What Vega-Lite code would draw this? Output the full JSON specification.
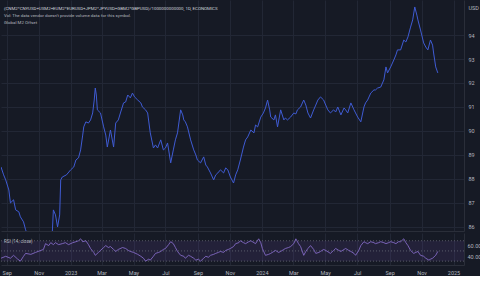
{
  "$schema": "https://vega.github.io/schema/vega-lite/v6.json",
  "padding": 0,
  "spacing": 2,
  "background": "#161a25",
  "config": {
    "view": {"stroke": null},
    "axis": {
      "labelColor": "#b2b5be",
      "labelFont": "Roboto",
      "labelFontSize": 5.5,
      "titleColor": "#b2b5be",
      "titleFont": "Roboto",
      "titleFontWeight": "normal",
      "titleFontSize": 5.5,
      "gridColor": "#222735",
      "gridWidth": 1,
      "domainColor": "#2a2e39",
      "tickColor": "#2a2e39"
    }
  },
  "datasets": {
    "m2": [
      {"date": "2022-08-21", "value": 88.50}, {"date": "2022-08-26", "value": 88.17}, {"date": "2022-08-30", "value": 87.96},
      {"date": "2022-09-05", "value": 87.54}, {"date": "2022-09-08", "value": 87.00}, {"date": "2022-09-14", "value": 87.13},
      {"date": "2022-09-18", "value": 86.71}, {"date": "2022-09-24", "value": 86.63}, {"date": "2022-09-27", "value": 86.42},
      {"date": "2022-10-03", "value": 86.21}, {"date": "2022-10-07", "value": 85.88}, {"date": "2022-10-13", "value": 85.54},
      {"date": "2022-10-21", "value": 85.38}, {"date": "2022-10-28", "value": 85.46}, {"date": "2022-11-05", "value": 85.25},
      {"date": "2022-11-12", "value": 85.54}, {"date": "2022-11-20", "value": 85.63}, {"date": "2022-11-27", "value": 85.79},
      {"date": "2022-11-29", "value": 86.71}, {"date": "2022-12-03", "value": 86.50}, {"date": "2022-12-07", "value": 86.00},
      {"date": "2022-12-11", "value": 86.50}, {"date": "2022-12-13", "value": 87.96}, {"date": "2022-12-16", "value": 88.08},
      {"date": "2022-12-24", "value": 88.17}, {"date": "2023-01-01", "value": 88.38}, {"date": "2023-01-07", "value": 88.50},
      {"date": "2023-01-11", "value": 88.79}, {"date": "2023-01-16", "value": 88.88}, {"date": "2023-01-20", "value": 89.21},
      {"date": "2023-01-24", "value": 89.83}, {"date": "2023-01-26", "value": 90.17}, {"date": "2023-01-30", "value": 90.38},
      {"date": "2023-02-04", "value": 90.33}, {"date": "2023-02-08", "value": 90.46}, {"date": "2023-02-12", "value": 90.75},
      {"date": "2023-02-15", "value": 91.29}, {"date": "2023-02-17", "value": 91.79}, {"date": "2023-02-19", "value": 91.50},
      {"date": "2023-02-21", "value": 90.88}, {"date": "2023-02-27", "value": 90.75}, {"date": "2023-03-05", "value": 90.17},
      {"date": "2023-03-09", "value": 89.83}, {"date": "2023-03-12", "value": 89.33}, {"date": "2023-03-18", "value": 90.04},
      {"date": "2023-03-24", "value": 89.33}, {"date": "2023-03-28", "value": 90.33}, {"date": "2023-04-02", "value": 90.46},
      {"date": "2023-04-06", "value": 90.75}, {"date": "2023-04-12", "value": 91.17}, {"date": "2023-04-16", "value": 91.21},
      {"date": "2023-04-20", "value": 91.50}, {"date": "2023-04-25", "value": 91.38}, {"date": "2023-04-29", "value": 91.58},
      {"date": "2023-05-03", "value": 91.42}, {"date": "2023-05-09", "value": 91.29}, {"date": "2023-05-15", "value": 91.17},
      {"date": "2023-05-18", "value": 91.00}, {"date": "2023-05-24", "value": 90.88}, {"date": "2023-05-28", "value": 90.75},
      {"date": "2023-06-02", "value": 89.92}, {"date": "2023-06-08", "value": 89.29}, {"date": "2023-06-12", "value": 89.42},
      {"date": "2023-06-16", "value": 89.29}, {"date": "2023-06-22", "value": 89.63}, {"date": "2023-06-27", "value": 89.21},
      {"date": "2023-07-01", "value": 89.29}, {"date": "2023-07-05", "value": 89.50}, {"date": "2023-07-11", "value": 88.67},
      {"date": "2023-07-16", "value": 89.21}, {"date": "2023-07-20", "value": 89.63}, {"date": "2023-07-24", "value": 89.92},
      {"date": "2023-07-30", "value": 90.88}, {"date": "2023-08-03", "value": 90.67}, {"date": "2023-08-05", "value": 90.46},
      {"date": "2023-08-08", "value": 90.38}, {"date": "2023-08-12", "value": 90.17}, {"date": "2023-08-18", "value": 89.63},
      {"date": "2023-08-24", "value": 89.21}, {"date": "2023-08-28", "value": 89.00}, {"date": "2023-08-31", "value": 88.79},
      {"date": "2023-09-06", "value": 88.67}, {"date": "2023-09-12", "value": 88.92}, {"date": "2023-09-16", "value": 88.58},
      {"date": "2023-09-19", "value": 88.50}, {"date": "2023-09-25", "value": 88.25}, {"date": "2023-10-01", "value": 87.96},
      {"date": "2023-10-05", "value": 88.17}, {"date": "2023-10-09", "value": 88.25}, {"date": "2023-10-14", "value": 88.38},
      {"date": "2023-10-20", "value": 88.25}, {"date": "2023-10-24", "value": 88.46}, {"date": "2023-10-28", "value": 88.38},
      {"date": "2023-11-02", "value": 88.08}, {"date": "2023-11-08", "value": 87.83}, {"date": "2023-11-12", "value": 88.17},
      {"date": "2023-11-16", "value": 88.38}, {"date": "2023-11-21", "value": 88.79}, {"date": "2023-11-27", "value": 89.33},
      {"date": "2023-12-01", "value": 89.63}, {"date": "2023-12-05", "value": 89.75}, {"date": "2023-12-11", "value": 90.04},
      {"date": "2023-12-17", "value": 89.92}, {"date": "2023-12-20", "value": 90.25}, {"date": "2023-12-24", "value": 90.17},
      {"date": "2023-12-30", "value": 90.58}, {"date": "2024-01-04", "value": 90.75}, {"date": "2024-01-08", "value": 90.96},
      {"date": "2024-01-12", "value": 91.29}, {"date": "2024-01-16", "value": 90.88}, {"date": "2024-01-18", "value": 90.58},
      {"date": "2024-01-24", "value": 90.46}, {"date": "2024-01-27", "value": 90.67}, {"date": "2024-01-31", "value": 90.17},
      {"date": "2024-02-06", "value": 90.88}, {"date": "2024-02-12", "value": 90.46}, {"date": "2024-02-15", "value": 90.54},
      {"date": "2024-02-19", "value": 90.46}, {"date": "2024-02-25", "value": 90.58}, {"date": "2024-03-02", "value": 90.75},
      {"date": "2024-03-06", "value": 90.71}, {"date": "2024-03-09", "value": 90.88}, {"date": "2024-03-15", "value": 91.00},
      {"date": "2024-03-21", "value": 91.29}, {"date": "2024-03-25", "value": 91.08}, {"date": "2024-03-29", "value": 90.75},
      {"date": "2024-04-03", "value": 90.54}, {"date": "2024-04-09", "value": 90.88}, {"date": "2024-04-13", "value": 91.08},
      {"date": "2024-04-17", "value": 91.29}, {"date": "2024-04-22", "value": 91.42}, {"date": "2024-04-28", "value": 91.29},
      {"date": "2024-05-02", "value": 91.08}, {"date": "2024-05-06", "value": 90.88}, {"date": "2024-05-11", "value": 90.75},
      {"date": "2024-05-17", "value": 90.88}, {"date": "2024-05-21", "value": 90.79}, {"date": "2024-05-25", "value": 91.00},
      {"date": "2024-05-31", "value": 90.67}, {"date": "2024-06-06", "value": 90.96}, {"date": "2024-06-09", "value": 90.88},
      {"date": "2024-06-13", "value": 90.75}, {"date": "2024-06-19", "value": 91.17}, {"date": "2024-06-25", "value": 90.88},
      {"date": "2024-06-28", "value": 90.75}, {"date": "2024-07-02", "value": 90.58}, {"date": "2024-07-08", "value": 90.38},
      {"date": "2024-07-14", "value": 91.00}, {"date": "2024-07-17", "value": 91.17}, {"date": "2024-07-21", "value": 91.29},
      {"date": "2024-07-27", "value": 91.58}, {"date": "2024-08-02", "value": 91.71}, {"date": "2024-08-05", "value": 91.71},
      {"date": "2024-08-09", "value": 91.79}, {"date": "2024-08-15", "value": 91.83}, {"date": "2024-08-21", "value": 92.13},
      {"date": "2024-08-25", "value": 92.67}, {"date": "2024-08-28", "value": 92.42}, {"date": "2024-09-03", "value": 92.67},
      {"date": "2024-09-09", "value": 92.96}, {"date": "2024-09-13", "value": 93.17}, {"date": "2024-09-16", "value": 93.38},
      {"date": "2024-09-22", "value": 93.38}, {"date": "2024-09-28", "value": 93.79}, {"date": "2024-10-02", "value": 93.71},
      {"date": "2024-10-06", "value": 93.92}, {"date": "2024-10-11", "value": 94.33}, {"date": "2024-10-15", "value": 94.63},
      {"date": "2024-10-19", "value": 95.17}, {"date": "2024-10-23", "value": 94.83}, {"date": "2024-10-25", "value": 94.63},
      {"date": "2024-10-30", "value": 94.21}, {"date": "2024-11-05", "value": 93.67}, {"date": "2024-11-09", "value": 93.50},
      {"date": "2024-11-13", "value": 93.38}, {"date": "2024-11-18", "value": 93.79}, {"date": "2024-11-22", "value": 93.58},
      {"date": "2024-11-24", "value": 93.25}, {"date": "2024-11-28", "value": 92.67}, {"date": "2024-12-02", "value": 92.42}
    ],
    "rsi": [
      {"date": "2022-08-21", "rsi": 35.7}, {"date": "2022-08-30", "rsi": 39.5}, {"date": "2022-09-08", "rsi": 35.7},
      {"date": "2022-09-14", "rsi": 41.4}, {"date": "2022-09-22", "rsi": 33.8}, {"date": "2022-09-27", "rsi": 30.0},
      {"date": "2022-10-03", "rsi": 39.5}, {"date": "2022-10-07", "rsi": 45.2}, {"date": "2022-10-17", "rsi": 43.3},
      {"date": "2022-10-26", "rsi": 47.1}, {"date": "2022-11-05", "rsi": 51.0}, {"date": "2022-11-10", "rsi": 52.9},
      {"date": "2022-11-14", "rsi": 64.3}, {"date": "2022-11-20", "rsi": 60.5}, {"date": "2022-11-24", "rsi": 66.2},
      {"date": "2022-11-29", "rsi": 62.4}, {"date": "2022-12-03", "rsi": 66.2}, {"date": "2022-12-09", "rsi": 62.4},
      {"date": "2022-12-16", "rsi": 64.3}, {"date": "2022-12-22", "rsi": 66.2}, {"date": "2022-12-28", "rsi": 62.4},
      {"date": "2023-01-05", "rsi": 66.2}, {"date": "2023-01-11", "rsi": 68.1}, {"date": "2023-01-16", "rsi": 70.0},
      {"date": "2023-01-20", "rsi": 73.8}, {"date": "2023-01-24", "rsi": 68.1}, {"date": "2023-01-30", "rsi": 70.0},
      {"date": "2023-02-04", "rsi": 62.4}, {"date": "2023-02-08", "rsi": 54.8}, {"date": "2023-02-14", "rsi": 47.1},
      {"date": "2023-02-17", "rsi": 41.4}, {"date": "2023-02-23", "rsi": 47.1}, {"date": "2023-02-27", "rsi": 51.0},
      {"date": "2023-03-05", "rsi": 56.7}, {"date": "2023-03-09", "rsi": 60.5}, {"date": "2023-03-14", "rsi": 56.7},
      {"date": "2023-03-18", "rsi": 58.6}, {"date": "2023-03-24", "rsi": 52.9}, {"date": "2023-03-28", "rsi": 49.0},
      {"date": "2023-04-02", "rsi": 52.9}, {"date": "2023-04-10", "rsi": 56.7}, {"date": "2023-04-16", "rsi": 54.8},
      {"date": "2023-04-21", "rsi": 51.0}, {"date": "2023-04-25", "rsi": 49.0}, {"date": "2023-05-01", "rsi": 47.1},
      {"date": "2023-05-09", "rsi": 43.3}, {"date": "2023-05-15", "rsi": 39.5}, {"date": "2023-05-20", "rsi": 35.7},
      {"date": "2023-05-24", "rsi": 30.0}, {"date": "2023-05-30", "rsi": 33.8}, {"date": "2023-06-02", "rsi": 31.9},
      {"date": "2023-06-08", "rsi": 39.5}, {"date": "2023-06-12", "rsi": 45.2}, {"date": "2023-06-18", "rsi": 47.1},
      {"date": "2023-06-22", "rsi": 49.0}, {"date": "2023-06-27", "rsi": 52.9}, {"date": "2023-07-01", "rsi": 54.8},
      {"date": "2023-07-07", "rsi": 62.4}, {"date": "2023-07-11", "rsi": 68.1}, {"date": "2023-07-16", "rsi": 64.3},
      {"date": "2023-07-20", "rsi": 56.7}, {"date": "2023-07-24", "rsi": 49.0}, {"date": "2023-07-30", "rsi": 41.4},
      {"date": "2023-08-05", "rsi": 39.5}, {"date": "2023-08-08", "rsi": 35.7}, {"date": "2023-08-14", "rsi": 41.4},
      {"date": "2023-08-18", "rsi": 39.5}, {"date": "2023-08-24", "rsi": 35.7}, {"date": "2023-08-28", "rsi": 31.9},
      {"date": "2023-09-02", "rsi": 33.8}, {"date": "2023-09-06", "rsi": 30.0}, {"date": "2023-09-12", "rsi": 35.7},
      {"date": "2023-09-16", "rsi": 39.5}, {"date": "2023-09-21", "rsi": 37.6}, {"date": "2023-09-25", "rsi": 41.4},
      {"date": "2023-10-01", "rsi": 43.3}, {"date": "2023-10-05", "rsi": 45.2}, {"date": "2023-10-10", "rsi": 47.1},
      {"date": "2023-10-14", "rsi": 49.0}, {"date": "2023-10-20", "rsi": 47.1}, {"date": "2023-10-24", "rsi": 51.0},
      {"date": "2023-10-29", "rsi": 52.9}, {"date": "2023-11-02", "rsi": 54.8}, {"date": "2023-11-08", "rsi": 58.6},
      {"date": "2023-11-12", "rsi": 64.3}, {"date": "2023-11-18", "rsi": 66.2}, {"date": "2023-11-21", "rsi": 70.0},
      {"date": "2023-11-27", "rsi": 66.2}, {"date": "2023-12-01", "rsi": 64.3}, {"date": "2023-12-07", "rsi": 68.1},
      {"date": "2023-12-11", "rsi": 70.0}, {"date": "2023-12-17", "rsi": 66.2}, {"date": "2023-12-20", "rsi": 64.3},
      {"date": "2023-12-26", "rsi": 73.8}, {"date": "2023-12-30", "rsi": 66.2}, {"date": "2024-01-02", "rsi": 54.8},
      {"date": "2024-01-08", "rsi": 41.4}, {"date": "2024-01-14", "rsi": 43.3}, {"date": "2024-01-18", "rsi": 45.2},
      {"date": "2024-01-24", "rsi": 49.0}, {"date": "2024-01-27", "rsi": 51.0}, {"date": "2024-02-02", "rsi": 47.1},
      {"date": "2024-02-06", "rsi": 49.0}, {"date": "2024-02-12", "rsi": 52.9}, {"date": "2024-02-15", "rsi": 54.8},
      {"date": "2024-02-21", "rsi": 56.7}, {"date": "2024-02-25", "rsi": 58.6}, {"date": "2024-03-02", "rsi": 64.3},
      {"date": "2024-03-06", "rsi": 73.8}, {"date": "2024-03-11", "rsi": 64.3}, {"date": "2024-03-15", "rsi": 58.6},
      {"date": "2024-03-21", "rsi": 41.4}, {"date": "2024-03-25", "rsi": 49.0}, {"date": "2024-03-29", "rsi": 54.8},
      {"date": "2024-04-03", "rsi": 60.5}, {"date": "2024-04-09", "rsi": 52.9}, {"date": "2024-04-13", "rsi": 45.2},
      {"date": "2024-04-19", "rsi": 47.1}, {"date": "2024-04-22", "rsi": 49.0}, {"date": "2024-04-28", "rsi": 52.9},
      {"date": "2024-05-02", "rsi": 51.0}, {"date": "2024-05-08", "rsi": 47.1}, {"date": "2024-05-11", "rsi": 45.2},
      {"date": "2024-05-17", "rsi": 51.0}, {"date": "2024-05-21", "rsi": 54.8}, {"date": "2024-05-27", "rsi": 51.0},
      {"date": "2024-05-31", "rsi": 49.0}, {"date": "2024-06-06", "rsi": 52.9}, {"date": "2024-06-09", "rsi": 54.8},
      {"date": "2024-06-15", "rsi": 51.0}, {"date": "2024-06-19", "rsi": 49.0}, {"date": "2024-06-25", "rsi": 45.2},
      {"date": "2024-06-28", "rsi": 41.4}, {"date": "2024-07-04", "rsi": 51.0}, {"date": "2024-07-08", "rsi": 60.5},
      {"date": "2024-07-14", "rsi": 68.1}, {"date": "2024-07-17", "rsi": 66.2}, {"date": "2024-07-21", "rsi": 64.3},
      {"date": "2024-07-27", "rsi": 68.1}, {"date": "2024-08-02", "rsi": 66.2}, {"date": "2024-08-05", "rsi": 64.3},
      {"date": "2024-08-11", "rsi": 66.2}, {"date": "2024-08-15", "rsi": 68.1}, {"date": "2024-08-21", "rsi": 66.2},
      {"date": "2024-08-25", "rsi": 64.3}, {"date": "2024-08-30", "rsi": 66.2}, {"date": "2024-09-03", "rsi": 68.1},
      {"date": "2024-09-09", "rsi": 66.2}, {"date": "2024-09-13", "rsi": 64.3}, {"date": "2024-09-18", "rsi": 68.1},
      {"date": "2024-09-22", "rsi": 68.1}, {"date": "2024-09-28", "rsi": 73.8}, {"date": "2024-10-02", "rsi": 66.2},
      {"date": "2024-10-06", "rsi": 60.5}, {"date": "2024-10-11", "rsi": 51.0}, {"date": "2024-10-17", "rsi": 45.2},
      {"date": "2024-10-21", "rsi": 47.1}, {"date": "2024-10-25", "rsi": 49.0}, {"date": "2024-10-30", "rsi": 41.4},
      {"date": "2024-11-05", "rsi": 39.5}, {"date": "2024-11-09", "rsi": 35.7}, {"date": "2024-11-15", "rsi": 31.9},
      {"date": "2024-11-18", "rsi": 33.8}, {"date": "2024-11-22", "rsi": 35.7}, {"date": "2024-11-28", "rsi": 41.4},
      {"date": "2024-12-02", "rsi": 49.0}
    ],
    "levels": [{"level": 70}, {"level": 50}, {"level": 30}],
    "band": [{"start": "2022-08-21", "end": "2025-01-21", "upper": 70, "lower": 30}]
  },
  "resolve": {"scale": {"x": "shared", "y": "independent"}},
  "vconcat": [
    {
      "width": 463,
      "height": 231,
      "title": {
        "text": "(CNM2*CNYUSD+USM2+EUM2*EURUSD+JPM2*JPYUSD+GBM2*GBPUSD)/1000000000000, 1D, ECONOMICS",
        "subtitle": ["Vol: The data vendor doesn't provide volume data for this symbol.", "Global M2 Offset"],
        "anchor": "start",
        "frame": "group",
        "offset": -25,
        "dx": 3,
        "font": "Roboto",
        "fontSize": 4.4,
        "fontWeight": "normal",
        "color": "#d1d4dc",
        "subtitleFont": "Roboto",
        "subtitleFontSize": 4.4,
        "subtitleColor": "#b2b5be",
        "subtitlePadding": 2.5,
        "subtitleLineHeight": 6.5
      },
      "data": {"name": "m2"},
      "mark": {"type": "line", "color": "#3f5bd3", "strokeWidth": 1, "clip": true},
      "encoding": {
        "x": {
          "field": "date", "type": "temporal",
          "scale": {"type": "utc", "domain": [{"year": 2022, "month": 8, "date": 21, "utc": true}, {"year": 2025, "month": 1, "date": 21, "utc": true}]},
          "axis": {"labels": false, "ticks": false, "domain": true, "grid": true, "title": null, "tickCount": {"interval": "month", "step": 2}}
        },
        "y": {
          "field": "value", "type": "quantitative",
          "scale": {"domain": [85.83, 95.46], "zero": false, "nice": false},
          "axis": {
            "orient": "right", "values": [86, 87, 88, 89, 90, 91, 92, 93, 94],
            "ticks": false, "labelPadding": 4, "domain": true, "grid": true,
            "title": "USD", "titleAngle": 0, "titleAlign": "left", "titleBaseline": "middle", "titleX": 4, "titleY": 7
          }
        }
      }
    },
    {
      "width": 463,
      "height": 32,
      "title": {
        "text": "RSI (14, close)",
        "anchor": "start",
        "frame": "group",
        "offset": -10,
        "dx": 3,
        "font": "Roboto",
        "fontSize": 4.5,
        "fontWeight": "normal",
        "color": "#b2b5be"
      },
      "layer": [
        {
          "data": {"name": "band"},
          "mark": {"type": "rect", "color": "#7e57c2", "opacity": 0.13},
          "encoding": {
            "x": {"field": "start", "type": "temporal"},
            "x2": {"field": "end"},
            "y": {"field": "upper", "type": "quantitative"},
            "y2": {"field": "lower"}
          }
        },
        {
          "data": {"name": "levels"},
          "mark": {"type": "rule", "color": "#787b86", "strokeDash": [1, 2], "opacity": 0.8, "strokeWidth": 0.8},
          "encoding": {"y": {"field": "level", "type": "quantitative"}}
        },
        {
          "data": {"name": "rsi"},
          "mark": {"type": "line", "color": "#8e72d6", "strokeWidth": 0.8, "clip": true},
          "encoding": {
            "x": {
              "field": "date", "type": "temporal",
              "scale": {"type": "utc", "domain": [{"year": 2022, "month": 8, "date": 21, "utc": true}, {"year": 2025, "month": 1, "date": 21, "utc": true}]},
              "axis": {
                "title": null, "grid": true, "ticks": false, "labelPadding": 5,
                "tickCount": {"interval": "month", "step": 2},
                "labelExpr": "utcmonth(datum.value) == 0 ? utcFormat(datum.value, '%Y') : utcFormat(datum.value, '%b')"
              }
            },
            "y": {
              "field": "rsi", "type": "quantitative",
              "scale": {"domain": [22.4, 85.2], "zero": false, "nice": false},
              "axis": {"orient": "right", "values": [40, 60], "format": ".2f", "ticks": false, "labelPadding": 3, "grid": false, "title": null}
            }
          }
        }
      ]
    }
  ]
}
